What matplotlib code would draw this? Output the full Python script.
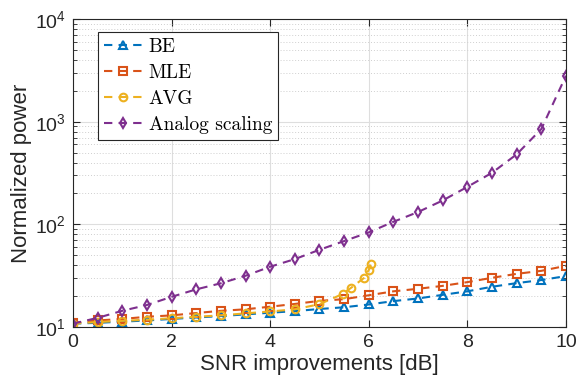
import numpy as np
import matplotlib
matplotlib.use("Agg")
import matplotlib.pyplot as plt
from matplotlib.ticker import LogLocator, NullFormatter, MultipleLocator

plt.rcParams['font.family'] = ['Liberation Sans', 'DejaVu Sans']
plt.rcParams['mathtext.fontset'] = 'custom'
plt.rcParams['mathtext.rm'] = 'Liberation Sans'
plt.rcParams['mathtext.it'] = 'Liberation Sans:italic'

# SNR grid shared by BE, MLE and analog scaling
snr = [0, 0.5, 1, 1.5, 2, 2.5, 3, 3.5, 4, 4.5, 5,
       5.5, 6, 6.5, 7, 7.5, 8, 8.5, 9, 9.5, 10]
be = [10.8, 11.0, 11.3, 11.6, 12.0, 12.4, 12.8, 13.3, 13.8, 14.3, 15.0,
      15.6, 16.6, 17.9, 19.0, 20.6, 22.3, 24.7, 26.8, 28.7, 31.4]
mle = [11.0, 11.6, 12.0, 12.6, 13.0, 13.7, 14.4, 14.9, 15.8, 16.8, 18.0,
       18.7, 20.4, 22.3, 23.6, 25.2, 27.4, 30.2, 33.0, 35.3, 39.5]
analog = [10.8, 12.3, 14.4, 16.4, 19.7, 23.3, 26.7, 31.6, 38.7, 45.9, 56.6,
          68.8, 83.6, 106, 132, 171, 232, 318, 481, 849, 2805]

# AVG stops near 6 dB
snr_avg = [0, 0.5, 1, 1.5, 2, 2.5, 3, 3.5, 4, 4.5, 5,
           5.47, 5.64, 5.9, 6.0, 6.04]
avg = [10.8, 11.2, 11.5, 11.8, 12.2, 12.6, 13.0, 13.6, 14.2, 14.9, 16.7,
       21.0, 24.1, 30.0, 36.0, 41.6]

fig = plt.figure(figsize=(5.79, 3.88), dpi=100)
ax = fig.add_axes([0.126, 0.157, 0.8515, 0.794])

dash = (0, (4, 3))
kw = dict(linestyle=dash, linewidth=1.5, markersize=5.5,
          markerfacecolor='none', markeredgewidth=1.5)
ax.plot(snr, be, marker='^', color='#0072BD', label='BE', **kw)
ax.plot(snr, mle, marker='s', color='#D95319', label='MLE', **kw)
ax.plot(snr_avg, avg, marker='o', color='#EDB120', label='AVG', **kw)
ax.plot(snr, analog, marker='d', color='#7E2F8E', label='Analog scaling', **kw)

ax.set_yscale('log')
ax.set_xlim(0, 10)
ax.set_ylim(10, 1e4)
ax.xaxis.set_major_locator(MultipleLocator(2))
ax.yaxis.set_major_locator(LogLocator(base=10, numticks=10))
ax.yaxis.set_minor_locator(LogLocator(base=10, subs=np.arange(2, 10), numticks=10))
ax.yaxis.set_minor_formatter(NullFormatter())

ax.grid(True, which='major', color='#dedede', linewidth=0.8)
ax.grid(True, which='minor', axis='y', color='#cfcfcf', linestyle=(0, (1, 2)), linewidth=0.7)
ax.set_axisbelow(True)

ax.tick_params(which='both', direction='in', top=True, right=True,
               labelsize=14, colors='#262626')
ax.tick_params(which='major', length=5, width=0.8, pad=5)
ax.tick_params(which='minor', length=3, width=0.6)
for s in ax.spines.values():
    s.set_color('#262626')
    s.set_linewidth(0.8)

ax.set_xlabel('SNR improvements [dB]', fontsize=16, color='#262626', labelpad=2)
ax.set_ylabel('Normalized power', fontsize=16, color='#262626', labelpad=2)

leg = ax.legend(loc='upper left', bbox_to_anchor=(0.051, 0.958),
                prop={'family': 'cmr10', 'size': 14},
                fancybox=False, edgecolor='#262626', framealpha=1,
                handlelength=2.0, handletextpad=0.3, borderpad=0.3,
                labelspacing=0.42, borderaxespad=0)
leg.get_frame().set_linewidth(0.8)

fig.savefig('out.png', dpi=100)
